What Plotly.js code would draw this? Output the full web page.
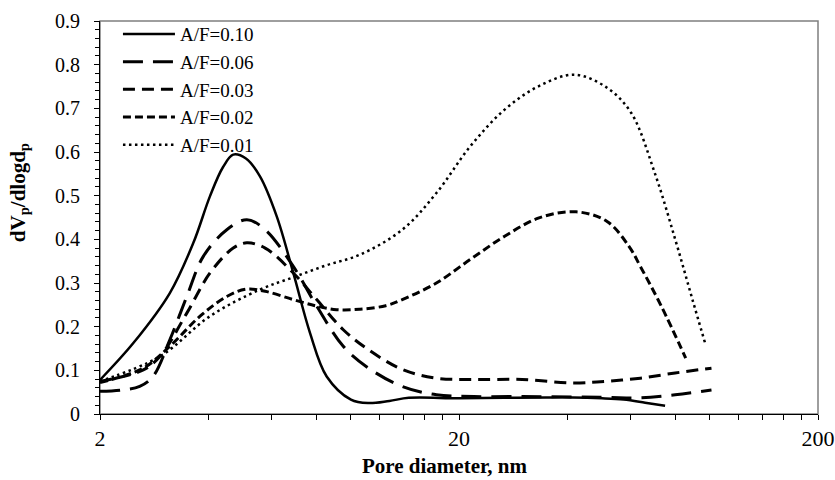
<!DOCTYPE html>
<html>
<head>
<meta charset="utf-8">
<script src="https://cdn.plot.ly/plotly-3.0.1.min.js"></script>
<style>html,body{margin:0;padding:0;background:#fff;}#chart{width:835px;height:480px;}</style>
</head>
<body>
<div id="chart"></div>
<script>
// Series names
const seriesNames = ['A/F=0.10', 'A/F=0.06', 'A/F=0.03', 'A/F=0.02', 'A/F=0.01'];

// A/F = 0.10 (solid)
const x010 = [2, 2.48, 3.13, 3.64, 4.05, 4.4, 4.70, 5.1, 5.58, 6.21, 6.91, 7.69, 8.56, 10.0, 11.2, 12.8, 14.5, 20, 26.8, 35, 41.5, 50, 57.5, 66, 75];
const y010 = [0.078, 0.163, 0.277, 0.392, 0.499, 0.565, 0.594, 0.585, 0.544, 0.453, 0.323, 0.186, 0.086, 0.033, 0.025, 0.030, 0.037, 0.036, 0.037, 0.038, 0.038, 0.036, 0.033, 0.026, 0.019];

// A/F = 0.06 (long dash)
const x006 = [2, 2.3, 2.58, 2.81, 3.13, 3.49, 3.88, 4.51, 5.13, 5.77, 6.91, 8.03, 9.52, 11.2, 13.9, 17.3, 22, 30, 41.5, 52, 64, 80, 101];
const y006 = [0.052, 0.055, 0.063, 0.086, 0.170, 0.269, 0.361, 0.422, 0.445, 0.422, 0.338, 0.247, 0.155, 0.105, 0.063, 0.044, 0.040, 0.040, 0.039, 0.038, 0.037, 0.044, 0.055];

// A/F = 0.03 (medium dash)
const x003 = [2, 2.64, 2.94, 3.49, 4.05, 4.70, 5.13, 5.77, 6.91, 8.03, 9.52, 11.2, 13.9, 17.3, 22, 30, 41.5, 51.7, 64, 80, 101];
const y003 = [0.075, 0.101, 0.132, 0.231, 0.323, 0.380, 0.392, 0.380, 0.323, 0.262, 0.193, 0.147, 0.102, 0.082, 0.079, 0.079, 0.071, 0.075, 0.082, 0.094, 0.105];

// A/F = 0.02 (short dash)
const x002 = [2, 2.64, 3.13, 3.80, 4.51, 5.13, 5.77, 6.91, 8.03, 9.12, 10.6, 12.5, 13.9, 17.3, 21.5, 26.8, 33.4, 42.4, 51.7, 59.5, 64, 73.2, 85.6];
const y002 = [0.072, 0.105, 0.155, 0.224, 0.269, 0.286, 0.281, 0.262, 0.247, 0.239, 0.240, 0.248, 0.262, 0.300, 0.354, 0.407, 0.449, 0.463, 0.441, 0.384, 0.338, 0.247, 0.128];

// A/F = 0.01 (dotted)
const x001 = [2, 2.94, 4.05, 5.58, 6.91, 8.5, 10.6, 13.9, 17.3, 21.5, 26.8, 33.4, 42, 51.7, 60.3, 70.2, 80.1, 89.4, 96.9];
const y001 = [0.075, 0.132, 0.224, 0.285, 0.313, 0.34, 0.365, 0.422, 0.506, 0.613, 0.697, 0.751, 0.777, 0.747, 0.690, 0.552, 0.399, 0.262, 0.163];

// Axis ticks
const xTickVals = [2, 20, 200];
const xTickText = ['2', '20', '200'];
const xMinorVals = [4, 6, 8, 10, 12, 14, 16, 18, 40, 60, 80, 100, 120, 140, 160, 180];
const yTickVals = [0, 0.1, 0.2, 0.3, 0.4, 0.5, 0.6, 0.7, 0.8, 0.9];
const yTickText = ['0', '0.1', '0.2', '0.3', '0.4', '0.5', '0.6', '0.7', '0.8', '0.9'];

const FONT = 'Liberation Serif, Times New Roman, serif';
const xs = [x010, x006, x003, x002, x001];
const ys = [y010, y006, y003, y002, y001];
const dashes = ['solid', '20px,10px', '12px,7px', '8px,4px', '2.5px,3.5px'];
const widths = [2.5, 3, 3, 3, 2.5];

const traces = xs.map((x, i) => ({
  type: 'scatter',
  mode: 'lines',
  name: seriesNames[i],
  x: x,
  y: ys[i],
  line: {color: '#000', width: widths[i], dash: dashes[i], shape: 'spline', smoothing: 1},
  hoverinfo: 'skip'
}));

const layout = {
  width: 835, height: 480,
  margin: {l: 100, r: 17, t: 21, b: 66},
  paper_bgcolor: '#fff', plot_bgcolor: '#fff',
  font: {family: FONT, color: '#000'},
  showlegend: true,
  legend: {
    x: 0.025, y: 1.015, xanchor: 'left', yanchor: 'top',
    bgcolor: 'rgba(0,0,0,0)', borderwidth: 0,
    font: {family: FONT, size: 19, color: '#000'},
    itemwidth: 52, tracegroupgap: 0
  },
  xaxis: {
    type: 'log',
    range: [Math.log10(2), Math.log10(200)],
    tickmode: 'array', tickvals: xTickVals, ticktext: xTickText,
    ticks: 'outside', ticklen: 5, tickwidth: 1, tickcolor: '#000',
    ticklabelstandoff: 0,
    minor: {tickmode: 'array', tickvals: xMinorVals, ticks: 'outside', ticklen: 5, tickwidth: 1, tickcolor: '#000', showgrid: false},
    showline: true, linecolor: '#000', linewidth: 1, mirror: false,
    showgrid: false, zeroline: false,
    tickfont: {family: FONT, size: 22, color: '#000'}
  },
  yaxis: {
    range: [0, 0.9],
    tickmode: 'array', tickvals: yTickVals, ticktext: yTickText,
    ticks: 'outside', ticklen: 5, tickwidth: 1, tickcolor: '#000',
    ticklabelstandoff: 10,
    minor: {dtick: 0.02, tick0: 0, ticks: 'outside', ticklen: 4, tickwidth: 1, tickcolor: '#000', showgrid: false},
    showline: true, linecolor: '#000', linewidth: 1, mirror: false,
    showgrid: false, zeroline: false,
    tickfont: {family: FONT, size: 20, color: '#000'}
  },
  shapes: [{
    type: 'rect', xref: 'paper', yref: 'paper', x0: 0, x1: 1, y0: 0, y1: 1,
    line: {color: '#7f7f7f', width: 1.5}, layer: 'below'
  }],
  annotations: [
    {text: '<b>Pore diameter, nm</b>', xref: 'paper', yref: 'paper', x: 0.48, y: -0.133,
     xanchor: 'center', yanchor: 'middle', showarrow: false,
     font: {family: FONT, size: 21, color: '#000'}},
    {text: '<b>dV<sub>p</sub>/dlogd<sub>p</sub></b>', xref: 'paper', yref: 'paper', x: -0.113, y: 0.564,
     xanchor: 'center', yanchor: 'middle', textangle: -90, showarrow: false,
     font: {family: FONT, size: 21, color: '#000'}}
  ]
};

Plotly.newPlot('chart', traces, layout, {displayModeBar: false, staticPlot: true});
</script>
</body>
</html>
